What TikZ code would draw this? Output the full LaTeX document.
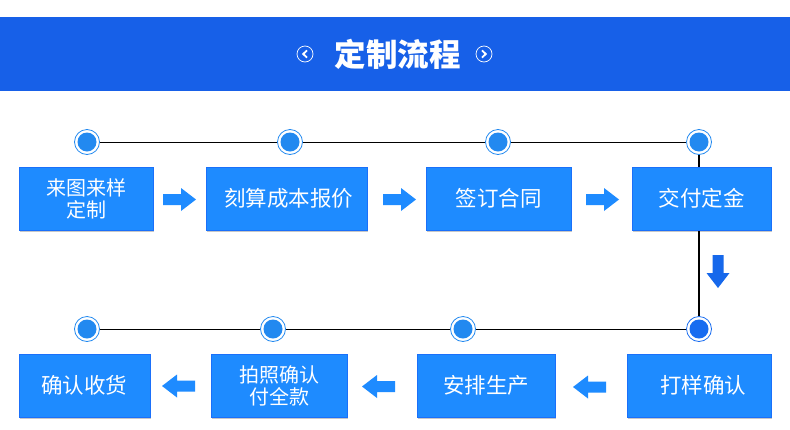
\documentclass[tikz,border=0pt]{standalone}
\usepackage{fontspec}
\setmainfont{Noto Sans CJK SC}
\usetikzlibrary{shadows}
\definecolor{banner}{RGB}{23,96,232}
\definecolor{boxblue}{RGB}{30,139,255}
\definecolor{boxedge}{RGB}{26,112,250}
\definecolor{dotblue}{RGB}{34,137,240}
\definecolor{dotdark}{RGB}{24,108,240}
\definecolor{arrowblue}{RGB}{30,139,255}
\definecolor{arrowdark}{RGB}{22,104,235}
\begin{document}
\begin{tikzpicture}[x=1pt,y=-1pt,
  stepbox/.style={draw=boxedge, line width=0.7pt, fill=boxblue, text=white,
    font=\fontsize{21.5}{23}\selectfont, align=center, inner sep=0pt,
    minimum height=63pt,
    drop shadow={shadow xshift=1pt, shadow yshift=-2pt, opacity=0.22, fill=black}},
  twoline/.style={font=\fontsize{20}{22}\selectfont},
  dot/.style={circle, draw=#1, line width=0.8pt, fill=white, minimum size=25pt, inner sep=0pt,
    path picture={\fill[#1] (path picture bounding box.center) circle (9.5pt);}},
  dot/.default=dotblue,
  track/.style={draw=black, line width=0.8pt},
  barrow/.pic={\fill (0,-5.5) -- (18,-5.5) -- (18,-11.5) -- (33,0) -- (18,11.5) -- (18,5.5) -- (0,5.5) -- cycle;},
  chev/.style={draw=white, line width=0.7pt}
]
\useasboundingbox[fill=white] (0,0) rectangle (790,429);
% banner
\fill[banner] (0,17) rectangle (790,91);
\node[font=\fontsize{31.5}{32}\selectfont\bfseries, text=white, inner sep=0pt] (title) at (397.5,54) {定制流程};
\node[circle, chev, minimum size=16pt, inner sep=0pt] (cl) at (305,54) {};
\node[circle, chev, minimum size=16pt, inner sep=0pt] (cr) at (484,54) {};
\draw[white, line width=1.8pt] ([shift={(2,-3.6)}]cl.center) -- ([shift={(-1.8,0)}]cl.center) -- ([shift={(2,3.6)}]cl.center);
\draw[white, line width=1.8pt] ([shift={(-2,-3.6)}]cr.center) -- ([shift={(1.8,0)}]cr.center) -- ([shift={(-2,3.6)}]cr.center);

% dots
\node[dot] (d1) at (87,142) {};
\node[dot] (d2) at (290,142) {};
\node[dot] (d3) at (498,142) {};
\node[dot] (d4) at (699,142) {};
\node[dot=dotdark] (d5) at (699,329) {};
\node[dot] (d6) at (463,329) {};
\node[dot] (d7) at (273,329) {};
\node[dot] (d8) at (87,329) {};

% track lines
\draw[track] (d1) -- (d2);
\draw[track] (d2) -- (d3);
\draw[track] (d3) -- (d4);
\draw[track, line width=1.6pt] (d4) -- (d5);
\draw[track] (d5) -- (d6);
\draw[track] (d6) -- (d7);
\draw[track] (d7) -- (d8);

% boxes
\node[stepbox, twoline, minimum width=134pt] (b1) at (86,198.5) {来图来样\\定制};
\node[stepbox, minimum width=161pt] (b2) at (286.5,198.5) {\hspace*{4pt}刻算成本报价};
\node[stepbox, minimum width=145pt] (b3) at (498.5,198.5) {签订合同};
\node[stepbox, minimum width=139pt] (b4) at (701.5,198.5) {交付定金};
\node[stepbox, minimum width=144pt] (b5) at (699,385.5) {\hspace*{8pt}打样确认};
\node[stepbox, minimum width=138pt] (b6) at (486,385.5) {安排生产};
\node[stepbox, twoline, minimum width=136pt] (b7) at (279,385.5) {拍照确认\\付全款};
\node[stepbox, minimum width=131pt] (b8) at (84.5,385.5) {确认收货};

% block arrows
\pic[color=arrowblue] at (163,199.5) {barrow};
\pic[color=arrowblue] at (383,199.5) {barrow};
\pic[color=arrowblue] at (586,199.5) {barrow};
\pic[color=arrowdark, rotate=-90] at (718,255) {barrow};
\pic[color=arrowblue, rotate=180] at (606,387) {barrow};
\pic[color=arrowblue, rotate=180] at (395,386.5) {barrow};
\pic[color=arrowblue, rotate=180] at (195,386) {barrow};
\end{tikzpicture}
\end{document}
